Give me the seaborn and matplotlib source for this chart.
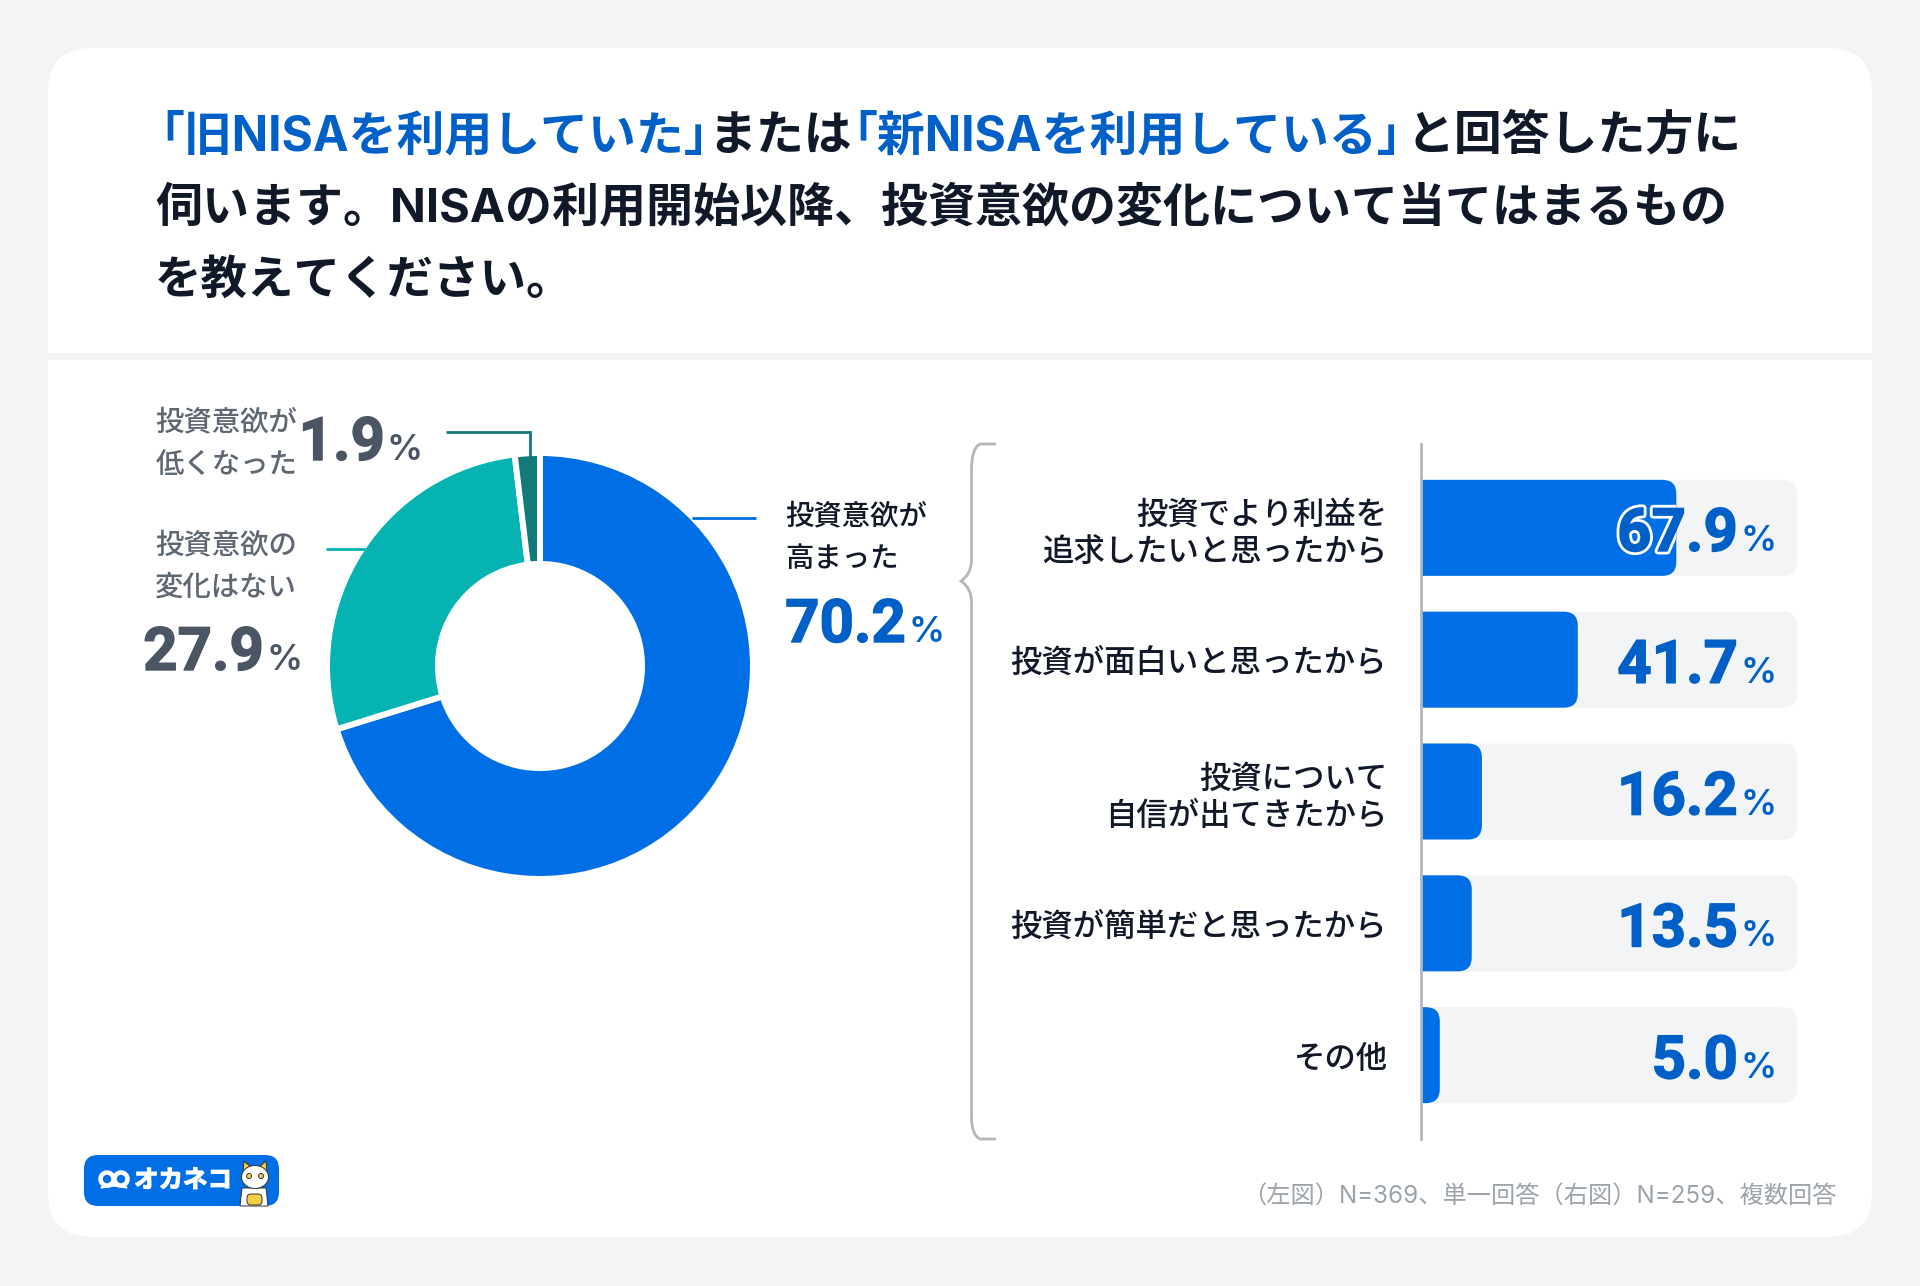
import matplotlib
matplotlib.use("Agg")
import matplotlib.pyplot as plt
import matplotlib.patheffects as pe
from matplotlib.patches import FancyBboxPatch, Rectangle, Ellipse, Polygon, PathPatch
from matplotlib.path import Path
from matplotlib.transforms import Bbox
import seaborn as sns

# ---------- data ----------
donut_labels = ["投資意欲が\n高まった", "投資意欲の\n変化はない", "投資意欲が\n低くなった"]
donut_values = [70.2, 27.9, 1.9]
bar_categories = ["投資でより利益を\n追求したいと思ったから", "投資が面白いと思ったから",
                  "投資について\n自信が出てきたから", "投資が簡単だと思ったから", "その他"]
bar_values = [67.9, 41.7, 16.2, 13.5, 5.0]
bar_track = [100, 100, 100, 100, 100]
footnote = "（左図）N=369、単一回答（右図）N=259、複数回答"

# ---------- styles ----------
BG = "#F2F4F6"; BLUE = "#006FE6"; BLUE_TXT = "#0060C8"; TEAL = "#05B3B3"; DTEAL = "#137A7A"
INK = "#111827"; GRAY_NUM = "#4B5563"; GRAY_LBL = "#5F6772"; GRAY_LINE = "#B4B7BC"; FOOT = "#9CA3AB"
JP = ["Inter", "Noto Sans CJK JP", "DejaVu Sans"]
NUM = ["Roboto", "Noto Sans"]
W, H = 1920, 1286
px = 72 / 100  # pt per pixel at dpi 100

sns.set_theme(style="white")
plt.rcParams["font.family"] = ["Noto Sans CJK JP", "DejaVu Sans"]

fig = plt.figure(figsize=(W / 100, H / 100), dpi=100, facecolor=BG)


def axes_px(x0, y0, x1, y1, **kw):
    return fig.add_axes([x0 / W, 1 - y1 / H, (x1 - x0) / W, (y1 - y0) / H], **kw)


# ---------- card ----------
bg = axes_px(0, 0, W, H, zorder=0)
bg.set_xlim(0, W); bg.set_ylim(H, 0); bg.axis("off")
bg.add_patch(FancyBboxPatch((48, 48), 1824, 1189, boxstyle="round,pad=0,rounding_size=44", fc="white", ec="none"))
bg.add_patch(Rectangle((48, 353), 1824, 7, fc=BG, ec="none"))

# ---------- donut ----------
R = 213
ax_d = axes_px(540 - 231, 666 - 231, 540 + 231, 666 + 231, zorder=1)
ax_d.pie(donut_values, colors=[BLUE, TEAL, DTEAL], startangle=90, counterclock=False,
         wedgeprops=dict(width=0.521, edgecolor="white", linewidth=6 * px))
ax_d.set_xlim(-231 / R, 231 / R); ax_d.set_ylim(-231 / R, 231 / R)
ax_d.set_aspect("equal"); ax_d.axis("off")

# ---------- bars ----------
ax_b = axes_px(1421, 444, 1797, 1139, zorder=1)
PITCH = 695 / 5.272
sns.barplot(x=bar_track, y=bar_categories, color=BG, width=96 / PITCH, saturation=1, ax=ax_b, orient="h")
sns.barplot(x=bar_values, y=bar_categories, color=BLUE, width=96 / PITCH, saturation=1, ax=ax_b, orient="h")
ax_b.set_xlim(0, 100)
ax_b.set_ylim(4.636, -0.636)
ax_b.patch.set_alpha(0)
ax_b.set_xlabel(""); ax_b.set_ylabel("")
ax_b.xaxis.set_visible(False)
sns.despine(ax=ax_b, top=True, right=True, bottom=True)
ax_b.spines["left"].set_color(GRAY_LINE)
ax_b.spines["left"].set_linewidth(2.8 * px)
ax_b.tick_params(axis="y", length=0, pad=34 * px)
for t in ax_b.get_yticklabels():
    t.set_fontsize(31.4 * px); t.set_color(INK); t.set_multialignment("right"); t.set_linespacing(1.2)
    t.set_fontweight("medium")

# rounded right-hand ends on the bars seaborn drew
rx = 14 / 3.76
for p in list(ax_b.patches):
    x, y, w, h = p.get_x(), p.get_y(), p.get_width(), p.get_height()
    fc = p.get_facecolor()
    p.remove()
    ax_b.add_patch(FancyBboxPatch((x - rx, y), w + rx, h, boxstyle=f"round,pad=0,rounding_size={rx}",
                                  mutation_aspect=3.76 / PITCH, fc=fc, ec="none", zorder=2))

# ---------- overlay ----------
ov = axes_px(0, 0, W, H, zorder=3)
ov.set_xlim(0, W); ov.set_ylim(H, 0); ov.axis("off"); ov.patch.set_alpha(0)


def T(x, y, s, size, color, weight="normal", ha="left", va="center", family=JP, **kw):
    return ov.text(x, y, s, fontsize=size * px, color=color, fontweight=weight, ha=ha, va=va, family=family, **kw)


# title
for x, s, c in [(136, "「旧NISAを利用していた」", BLUE_TXT), (708, "または", INK),
                (829, "「新NISAを利用している」", BLUE_TXT), (1406, "と回答した方に", INK)]:
    T(x, 137, s, 47.9, c, "bold")
T(155, 209, "伺います。NISAの利用開始以降、投資意欲の変化について当てはまるもの", 47, INK, "bold")
T(155, 282, "を教えてください。", 46.5, INK, "bold")

# donut leaders
LW = 2.8 * px
ov.plot([692, 756], [518, 518], color=BLUE, lw=LW, solid_capstyle="butt")
ov.plot([326, 367], [549, 549], color=TEAL, lw=LW, solid_capstyle="butt")
ov.plot([446, 530, 530], [432, 432, 458], color=DTEAL, lw=LW, solid_capstyle="butt", solid_joinstyle="miter")

# donut labels
LS = 28.4
T(785, 538, donut_labels[0], LS, INK, weight="medium", linespacing=1.72)
T(297, 567, donut_labels[1], LS, GRAY_LBL, weight="medium", ha="right", multialignment="right", linespacing=1.72)
T(297, 444, donut_labels[2], LS, GRAY_LBL, weight="medium", ha="right", multialignment="right", linespacing=1.72)


def pct(xr_num, base, v, color, dsize=60, psize=36):
    t = T(xr_num, base, f"{v:.1f}", dsize, color, "bold", ha="right", va="baseline", family=NUM)
    t.set_path_effects([pe.Stroke(linewidth=1.4 * px, foreground=color), pe.Normal()])
    T(xr_num + 2, base, "%", psize, color, "semibold", ha="left", va="baseline", family=["Inter", "Noto Sans"])
    return t


pct(906, 642, donut_values[0], BLUE_TXT)
pct(264, 670, donut_values[1], GRAY_NUM)
pct(385, 460, donut_values[2], GRAY_NUM)


class ClippedStroke(pe.AbstractPathEffect):
    """White outline visible only where the number sits on the bar."""
    def __init__(self, width, color, clip):
        super().__init__()
        self.width, self.color, self.clip = width, color, clip

    def draw_path(self, renderer, gc, tpath, affine, rgbFace):
        g = renderer.new_gc()
        g.copy_properties(gc)
        g.set_foreground(self.color)
        g.set_linewidth(self.width)
        g.set_clip_rectangle(self.clip)
        renderer.draw_path(g, tpath, affine, None)
        g.restore()


for i, v in enumerate(bar_values):
    yc = 528 + PITCH * i
    t = pct(1738, yc + 23, v, BLUE_TXT)
    x_end = 1421 + v * 3.76
    if x_end > 1610:  # number overlaps the bar
        clip = Bbox.from_extents(1421, H - (yc + 48), x_end, H - (yc - 48))
        t.set_path_effects([ClippedStroke(7 * px, "white", clip),
                            pe.Stroke(linewidth=1.4 * px, foreground=BLUE_TXT), pe.Normal()])

# bracket
verts = [(996, 444), (980, 444), (971.5, 448), (971.5, 470), (971.5, 560), (971.5, 574), (961, 581),
         (971.5, 588), (971.5, 602), (971.5, 1117), (971.5, 1135), (980, 1139), (996, 1139)]
codes = [Path.MOVETO, Path.LINETO, Path.CURVE3, Path.CURVE3, Path.LINETO, Path.CURVE3, Path.CURVE3,
         Path.CURVE3, Path.CURVE3, Path.LINETO, Path.CURVE3, Path.CURVE3, Path.LINETO]
ov.add_patch(PathPatch(Path(verts, codes), fc="none", ec=GRAY_LINE, lw=2.8 * px))

# footnote
T(1837, 1197, footnote, 24.2, FOOT, ha="right")

# logo
ov.add_patch(FancyBboxPatch((84, 1155), 195, 51, boxstyle="round,pad=0,rounding_size=14", fc=BLUE, ec="none"))
for cx in (107, 121):
    ov.add_patch(Ellipse((cx, 1179), 13, 13, fc="none", ec="white", lw=4.5 * px))
ov.add_patch(Polygon([(103, 1185), (125, 1185), (127, 1188), (114, 1186), (101, 1188)], fc="white", ec="white", lw=1))
logo = T(134, 1181, "オカネコ", 24.5, "white", "bold")
logo.set_path_effects([pe.Stroke(linewidth=1.2 * px, foreground="white"), pe.Normal()])
# cat mascot
ink = "#333333"
ov.add_patch(Polygon([(242, 1188), (266, 1188), (268, 1206), (240, 1206)], fc="white", ec=ink, lw=0.7))
ov.add_patch(Polygon([(243, 1172), (244, 1161), (252, 1168)], fc="#F7CE46", ec=ink, lw=0.7))
ov.add_patch(Polygon([(258, 1168), (266, 1161), (267, 1172)], fc="#F7CE46", ec=ink, lw=0.7))
ov.add_patch(Ellipse((255, 1177), 27, 23, fc="white", ec=ink, lw=0.7))
ov.add_patch(Ellipse((249, 1176), 5, 5, fc="#F7CE46", ec=ink, lw=0.7))
ov.add_patch(Ellipse((261, 1176), 5, 5, fc="#F7CE46", ec=ink, lw=0.7))
ov.add_patch(FancyBboxPatch((247, 1194), 15, 11, boxstyle="round,pad=0,rounding_size=4", fc="#F7CE46", ec=ink, lw=0.7))

fig.savefig("out.png", dpi=100, facecolor=BG)
